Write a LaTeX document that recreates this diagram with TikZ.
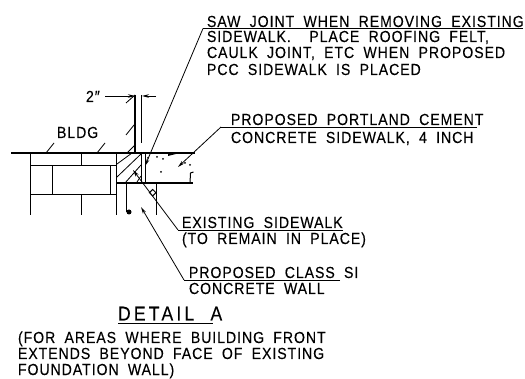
\documentclass[tikz,border=0pt]{standalone}
\usepackage{fontspec}
\usetikzlibrary{arrows.meta}
\setmainfont[LetterSpace=6,WordSpace=1.9,FakeStretch=0.88,FakeBold=0.2]{Liberation Sans}
\newfontfamily\detfam[LetterSpace=16,WordSpace=2,FakeStretch=0.88,FakeBold=0.2]{Liberation Sans}
\newcommand{\lblfont}{\fontsize{16}{18}\selectfont}
\newcommand{\detfont}{\detfam\fontsize{20}{22}\selectfont}
\tikzset{
  x=1pt,y=-1pt,
  lbl/.style={anchor=base west,inner sep=0pt,outer sep=0pt,font=\lblfont},
  line/.style={line width=1pt,black},
  ground/.style={line width=1.3pt,black},
  thin line/.style={line width=.8pt,black},
  lead/.style={line width=.8pt,black,-{Stealth[length=7pt,width=3.5pt]}},
  leadp/.style={line width=.9pt,black}
}
\begin{document}
\begin{tikzpicture}
\useasboundingbox (0,0) rectangle (525,379);
\fill[white] (0,0) rectangle (525,379);
% ground and walls
\draw[ground] (11,153) -- (195,153);
\draw[ground] (116.5,183) -- (193,183);
\draw[ground] (135,95) -- (135,153);
\draw[line] (141.7,95) -- (141.7,143);
\draw[line] (141.3,153) -- (141.3,183);
\draw[line] (145.8,153) -- (145.8,183);
\draw[line] (116.5,153) -- (116.5,215);
% bricks
\draw[line] (30,153) -- (30,215);
\draw[line] (81,153) -- (81,166);
\draw[line] (30,166) -- (116.5,166);
\draw[line] (30,195) -- (116.5,195);
\draw[line] (52,166) -- (52,195);
\draw[line] (110,166) -- (110,195);
\draw[line] (81,195) -- (81,215);
% wall below
\draw[line] (126,183) -- (126,212);
\fill (129,212) circle (2.5);
\draw[line] (156.7,183) -- (156.7,215);
% hatch
\draw[thin line] (117,164) -- (132,153);
\draw[thin line] (117,177) -- (141,154);
\draw[thin line] (125,183) -- (141,165);
\draw[thin line] (137,182) -- (141,176);
% ticks
\draw[thin line] (46,153) -- (54,143);
\draw[thin line] (97,153) -- (105,143);
\draw[thin line] (127,153) -- (135,145);
\draw[thin line] (126,135) -- (134,125);
\draw[thin line] (126,103) -- (135,95);
% break mark
\draw[line] (190,183) -- (190.5,173) -- (193.5,172);
% stipple
\fill (168,156) -- (176,154) -- (168,154) -- cycle;
\foreach \p in {(148,158),(157,157),(163,159),(161,172),(185,163),(190,165)}
  \fill \p circle (1);
\draw[line] (152.7,189.5) -- (156,192.7) -- (152.7,195.9) -- (149.4,192.7) -- cycle;
% labels
\node[lbl] (bldg) at (57,138) {BLDG};
\node[lbl] (two) at (86,102) {2\char"2033};
\coordinate (dimL) at (105,96);
\coordinate (dimLt) at (135,96);
\coordinate (dimR) at (156,96);
\coordinate (dimRt) at (142,96);
\draw[lead] (dimL) -- (dimLt);
\draw[lead] (dimR) -- (dimRt);

\node[lbl] (saw1) at (207,27) {SAW JOINT WHEN REMOVING EXISTING};
\node[lbl] (saw2) at (207,42) {SIDEWALK.\ \ PLACE ROOFING FELT,};
\node[lbl] (saw3) at (207,58) {CAULK JOINT, ETC WHEN PROPOSED};
\node[lbl] (saw4) at (207,75) {PCC SIDEWALK IS PLACED};
\coordinate (sawE) at (523,28.5);
\coordinate (sawK) at (203,28.5);
\coordinate (sawT) at (145,166);
\draw[leadp] (sawE) -- (sawK);
\draw[lead] (sawK) -- (sawT);

\node[lbl] (pc1) at (231,125) {PROPOSED PORTLAND CEMENT};
\node[lbl] (pc2) at (231,143) {CONCRETE SIDEWALK, 4 INCH};
\coordinate (pcE) at (477,127);
\coordinate (pcK) at (221,127);
\coordinate (pcT) at (178,167);
\draw[leadp] (pcE) -- (pcK);
\draw[lead] (pcK) -- (pcT);

\node[lbl] (ex1) at (182,228) {EXISTING SIDEWALK};
\node[lbl] (ex2) at (182,244) {(TO REMAIN IN PLACE)};
\coordinate (exE) at (343,230);
\coordinate (exK) at (178,230);
\coordinate (exT) at (133,170);
\draw[leadp] (exE) -- (exK);
\draw[lead] (exK) -- (exT);

\node[lbl] (cl1) at (189,278) {PROPOSED CLASS SI};
\node[lbl] (cl2) at (189,294) {CONCRETE WALL};
\coordinate (clE) at (340,280);
\coordinate (clK) at (184,280);
\coordinate (clT) at (141,207);
\draw[leadp] (clE) -- (clK);
\draw[lead] (clK) -- (clT);

\node[lbl,font=\detfont] (det) at (118,320.5) {DETAIL A};
\coordinate (detL) at (118,323);
\coordinate (detR) at (213,323);
\draw[leadp] (detL) -- (detR);

\node[lbl] (n1) at (18,343) {(FOR AREAS WHERE BUILDING FRONT};
\node[lbl] (n2) at (18,359) {EXTENDS BEYOND FACE OF EXISTING};
\node[lbl] (n3) at (18,375) {FOUNDATION WALL)};
\end{tikzpicture}
\end{document}
